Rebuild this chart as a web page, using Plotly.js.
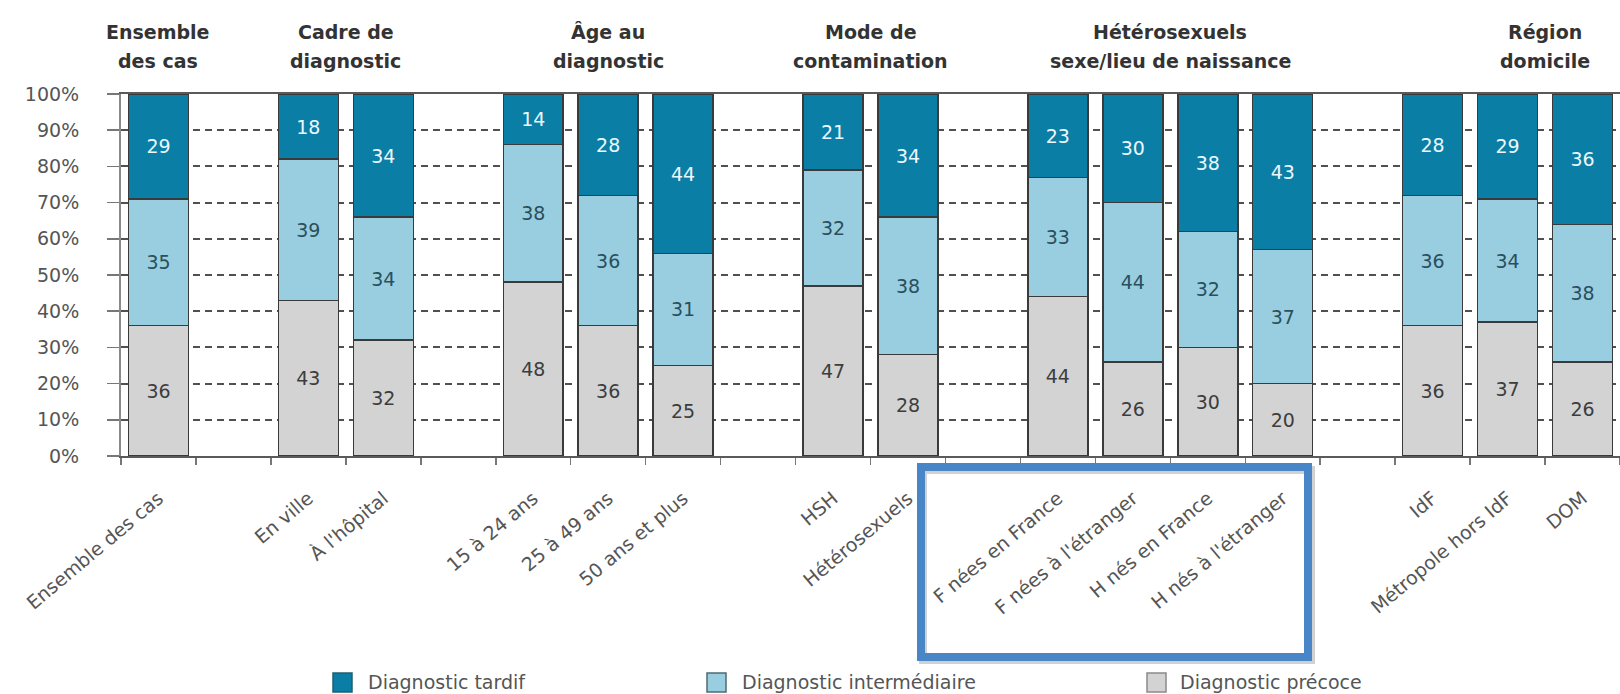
<!DOCTYPE html>
<html>
<head>
<meta charset="utf-8">
<script src="https://cdn.plot.ly/plotly-3.0.1.min.js"></script>
<style>
  html, body { margin: 0; padding: 0; background: #ffffff; }
  #chart { width: 1620px; height: 694px; }
</style>
</head>
<body>
<div id="chart"></div>
<script>
// Stade au diagnostic VIH selon les caractéristiques des cas (%)
const categories = [
  'Ensemble des cas', ' ',
  'En ville', "À l'hôpital", '  ',
  '15 à 24 ans', '25 à 49 ans', '50 ans et plus', '   ',
  'HSH', 'Hétérosexuels', '    ',
  'F nées en France', "F nées à l'étranger", 'H nés en France', "H nés à l'étranger", '     ',
  'IdF', 'Métropole hors IdF', 'DOM'
];

const tardif        = [29, null, 18, 34, null, 14, 28, 44, null, 21, 34, null, 23, 30, 38, 43, null, 28, 29, 36];
const intermediaire = [35, null, 39, 34, null, 38, 36, 31, null, 32, 38, null, 33, 44, 32, 37, null, 36, 34, 38];
const precoce       = [36, null, 43, 32, null, 48, 36, 25, null, 47, 28, null, 44, 26, 30, 20, null, 36, 37, 26];

const seriesNames = ['Diagnostic tardif', 'Diagnostic intermédiaire', 'Diagnostic précoce'];

const groupHeaders = [
  ['Ensemble', 'des cas'],
  ['Cadre de', 'diagnostic'],
  ['Âge au', 'diagnostic'],
  ['Mode de', 'contamination'],
  ['Hétérosexuels', 'sexe/lieu de naissance'],
  ['Région', 'domicile']
];
// centre of each group on the category axis (Région continues past the right edge)
const groupCenters = [0, 2.5, 6, 9.5, 13.5, 18.5];

const yTickValues = [0, 10, 20, 30, 40, 50, 60, 70, 80, 90, 100];
const yTickLabels = ['0%', '10%', '20%', '30%', '40%', '50%', '60%', '70%', '80%', '90%', '100%'];

// styling
const FONT = 'DejaVu Sans, Verdana, sans-serif';
const colTardif = '#0a7ea4';
const colInter = '#98cee0';
const colPrecoce = '#d3d3d3';
const edge = '#3a3a3a';

// plot area in pixels, used to place layout decorations
const W = 1620, H = 694;
const PLOT = { left: 121, right: 1620, top: 94, bottom: 456 };
const px = x => (x - PLOT.left) / (PLOT.right - PLOT.left);
const py = y => (PLOT.bottom - y) / (PLOT.bottom - PLOT.top);

function barTrace(values, name, fill, textColor) {
  return {
    type: 'bar',
    x: categories,
    y: values,
    name: name,
    marker: { color: fill, line: { color: edge, width: 1.5 } },
    text: values.map(v => (v == null ? '' : String(v))),
    texttemplate: '%{text}',
    textposition: 'inside',
    insidetextanchor: 'middle',
    textangle: 0,
    textfont: { family: FONT, size: 19, color: textColor },
    hoverinfo: 'skip',
    showlegend: false
  };
}

const data = [
  barTrace(precoce, seriesNames[2], colPrecoce, '#3d3d3d'),
  barTrace(intermediaire, seriesNames[1], colInter, '#2a4f5d'),
  barTrace(tardif, seriesNames[0], colTardif, '#eaf8ff')
];

const annotations = [];
groupHeaders.forEach((lines, i) => {
  [32, 61].forEach((yy, k) => {
    annotations.push({
      xref: 'x', yref: 'paper',
      x: groupCenters[i], y: py(yy),
      text: lines[k], showarrow: false,
      xanchor: 'center', yanchor: 'middle',
      font: { family: FONT, size: 19, color: '#333333', weight: 'bold' }
    });
  });
});

// legend drawn as boxes + labels along the bottom
const legendItems = [
  { name: seriesNames[0], fill: colTardif, line: '#225f73', box: 333, text: 366 },
  { name: seriesNames[1], fill: colInter, line: '#4f6a74', box: 707, text: 740 },
  { name: seriesNames[2], fill: colPrecoce, line: '#8a8a8a', box: 1147, text: 1178 }
];

const shapes = [];
legendItems.forEach(it => {
  shapes.push({
    type: 'rect', xref: 'paper', yref: 'paper',
    x0: px(it.box), x1: px(it.box + 19), y0: py(692), y1: py(673),
    fillcolor: it.fill, line: { color: it.line, width: 1.5 }, layer: 'above'
  });
  annotations.push({
    xref: 'paper', yref: 'paper', x: px(it.text), y: py(682),
    text: it.name, showarrow: false, xanchor: 'left', yanchor: 'middle',
    font: { family: FONT, size: 19, color: '#555555' }
  });
});

// highlight frame around the heterosexual sub-group labels
shapes.push({
  type: 'rect', xref: 'paper', yref: 'paper',
  x0: px(923), x1: px(1311), y0: py(660), y1: py(470),
  line: { color: 'rgba(0,0,0,0.18)', width: 8 }, layer: 'above'
});
shapes.push({
  type: 'rect', xref: 'paper', yref: 'paper',
  x0: px(921), x1: px(1308), y0: py(657), y1: py(467),
  line: { color: '#4886c7', width: 8 }, layer: 'above'
});

const layout = {
  width: W, height: H,
  margin: { l: PLOT.left, r: W - PLOT.right, t: PLOT.top, b: H - PLOT.bottom, pad: 0 },
  paper_bgcolor: '#ffffff', plot_bgcolor: '#ffffff',
  barmode: 'stack', bargap: 0.2,
  font: { family: FONT, color: '#555555' },
  showlegend: false,
  xaxis: {
    type: 'category',
    categoryorder: 'array', categoryarray: categories,
    range: [-0.5, categories.length - 0.5],
    tickangle: -40,
    tickfont: { family: FONT, size: 19, color: '#555555' },
    ticks: 'outside', tickson: 'boundaries', ticklen: 7, tickwidth: 1.5, tickcolor: '#777777',
    ticklabelstandoff: 22,
    showline: true, linecolor: '#5a5a5a', linewidth: 2, mirror: true,
    showgrid: false, zeroline: false, fixedrange: true
  },
  yaxis: {
    range: [0, 100],
    tickmode: 'array', tickvals: yTickValues, ticktext: yTickLabels,
    tickfont: { family: FONT, size: 19, color: '#555555' },
    ticks: 'outside', ticklen: 12, tickwidth: 1.5, tickcolor: '#777777',
    ticklabelstandoff: 24,
    showline: true, linecolor: '#8a8a8a', linewidth: 2,
    showgrid: true, gridcolor: '#505050', gridwidth: 2, griddash: '7px,5px',
    zeroline: false, fixedrange: true
  },
  annotations: annotations,
  shapes: shapes
};

Plotly.newPlot('chart', data, layout, { displayModeBar: false, staticPlot: true });
</script>
</body>
</html>
